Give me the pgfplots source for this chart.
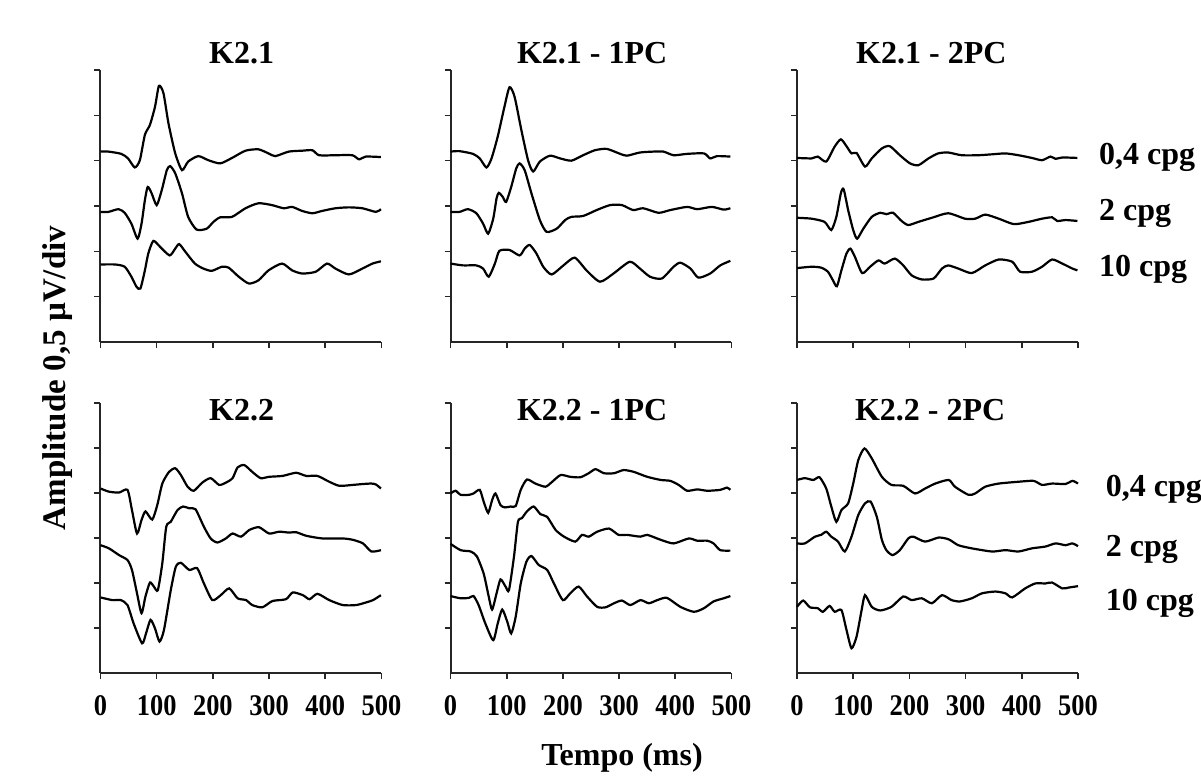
\documentclass[border=0pt]{standalone}
\usepackage{fontspec}
\setmainfont{Liberation Serif}
\newfontfamily\tickfam[FakeStretch=0.88]{Liberation Serif}
\usepackage{pgfplots}
\pgfplotsset{compat=1.18}

\newcommand\tfont{\fontsize{16bp}{18bp}\selectfont\bfseries}
\newcommand\tickfont{\tickfam\fontsize{15bp}{17bp}\selectfont\bfseries}

\pgfplotsset{
  panel/.style={
    scale only axis, width=140.5bp, height=136bp,
    xmin=0, xmax=500, ymin=0, ymax=6,
    axis x line*=bottom, axis y line*=left,
    axis line style={-, line width=1bp, black!85},
    xtick={0,100,...,500}, ytick={1,...,6},
    xticklabels={}, yticklabels={},
    tick align=outside, major tick length=3bp,
    tick style={line width=0.8bp, black!85},
    clip=false, anchor=south west,
  },
  bottomrow/.style={
    height=135bp,
    xticklabels={0,100,200,300,400,500},
    xticklabel style={font=\tickfont, anchor=base, yshift=-18.5bp},
  },
  trace/.style={black, line width=1.1bp, smooth, tension=0.4, mark=none},
}

\begin{document}
\begin{tikzpicture}
\path[use as bounding box] (0,0) rectangle (600.5bp,391bp);

% ---- top row ----
\begin{axis}[panel, at={(50.25bp,220bp)}]
\addplot[trace] coordinates {(0,4.20) (14,4.20) (37,4.15) (49,4.05) (61,3.85) (70,4.01) (79,4.57) (88,4.79) (97,5.19) (104,5.65) (112,5.49) (121,4.82) (133,4.16) (145,3.79) (156,3.98) (174,4.10) (192,4.01) (213,3.94) (234,4.06) (258,4.22) (281,4.25) (299,4.16) (311,4.10) (335,4.20) (359,4.22) (377,4.23) (389,4.12) (418,4.12) (448,4.12) (460,4.03) (472,4.09) (499,4.08)};
\addplot[trace] coordinates {(0,2.87) (14,2.87) (32,2.93) (43,2.85) (55,2.61) (66,2.28) (73,2.61) (79,3.13) (84,3.42) (91,3.28) (100,3.02) (109,3.35) (118,3.79) (124,3.88) (133,3.72) (145,3.28) (156,2.76) (171,2.48) (189,2.50) (201,2.65) (213,2.75) (234,2.76) (258,2.95) (281,3.06) (305,3.02) (326,2.95) (341,2.98) (359,2.89) (377,2.84) (394,2.89) (418,2.95) (442,2.97) (466,2.95) (490,2.87) (499,2.93)};
\addplot[trace] coordinates {(0,1.71) (26,1.71) (43,1.66) (55,1.44) (64,1.22) (71,1.18) (79,1.58) (85,1.95) (94,2.23) (106,2.10) (123,1.91) (133,2.06) (140,2.16) (151,1.99) (168,1.73) (183,1.62) (198,1.57) (216,1.66) (228,1.64) (246,1.44) (264,1.29) (281,1.36) (299,1.58) (323,1.73) (341,1.58) (359,1.51) (383,1.55) (403,1.73) (418,1.62) (442,1.49) (466,1.62) (484,1.73) (499,1.78)};
\node[anchor=base, font=\tfont] at (axis cs:251,6.15) {K2.1};
\end{axis}

\begin{axis}[panel, at={(225.25bp,220bp)}]
\addplot[trace] coordinates {(0,4.20) (16,4.21) (40,4.15) (52,4.05) (64,3.85) (73,4.05) (84,4.53) (96,5.19) (105,5.62) (114,5.41) (126,4.68) (138,4.01) (147,3.76) (159,3.98) (177,4.11) (195,4.05) (215,4.00) (236,4.12) (257,4.23) (278,4.26) (302,4.15) (314,4.11) (337,4.18) (361,4.20) (379,4.20) (397,4.12) (421,4.15) (451,4.16) (462,4.05) (474,4.10) (498,4.09)};
\addplot[trace] coordinates {(0,2.87) (16,2.87) (31,2.93) (46,2.84) (58,2.61) (67,2.39) (76,2.72) (82,3.17) (86,3.29) (93,3.20) (99,3.09) (108,3.42) (117,3.83) (123,3.94) (132,3.79) (144,3.28) (159,2.69) (171,2.43) (189,2.50) (204,2.69) (215,2.76) (236,2.78) (260,2.91) (284,3.02) (305,3.02) (325,2.91) (343,2.95) (370,2.85) (391,2.91) (421,2.98) (439,2.93) (465,2.98) (486,2.92) (498,2.95)};
\addplot[trace] coordinates {(0,1.73) (22,1.69) (46,1.69) (58,1.62) (68,1.44) (79,1.73) (87,2.01) (105,2.03) (123,1.91) (132,2.06) (141,2.14) (153,1.95) (165,1.66) (180,1.49) (201,1.69) (221,1.86) (242,1.58) (266,1.33) (290,1.51) (319,1.77) (337,1.62) (355,1.44) (376,1.40) (397,1.66) (409,1.75) (427,1.62) (441,1.42) (462,1.51) (480,1.69) (498,1.79)};
\node[anchor=base, font=\tfont] at (axis cs:252,6.15) {K2.1 - 1PC};
\end{axis}

\begin{axis}[panel, at={(398.5bp,220bp)}]
\addplot[trace] coordinates {(0,4.06) (26,4.05) (37,4.09) (52,3.98) (67,4.31) (78,4.47) (88,4.32) (97,4.16) (106,4.17) (121,3.87) (133,4.05) (151,4.27) (165,4.32) (183,4.12) (201,3.94) (216,3.90) (234,4.05) (251,4.16) (269,4.18) (293,4.12) (323,4.12) (347,4.14) (371,4.16) (394,4.12) (418,4.06) (436,4.01) (451,4.09) (460,4.04) (472,4.07) (499,4.06)};
\addplot[trace] coordinates {(0,2.74) (26,2.72) (49,2.65) (61,2.47) (70,2.76) (78,3.28) (83,3.37) (91,2.91) (100,2.47) (107,2.28) (118,2.50) (133,2.76) (148,2.85) (159,2.82) (171,2.85) (186,2.67) (198,2.58) (216,2.65) (240,2.74) (269,2.84) (299,2.72) (317,2.72) (335,2.81) (359,2.72) (386,2.60) (412,2.65) (436,2.72) (454,2.75) (463,2.67) (478,2.69) (499,2.67)};
\addplot[trace] coordinates {(0,1.63) (26,1.66) (43,1.64) (55,1.55) (64,1.36) (71,1.23) (79,1.58) (88,1.95) (95,2.06) (103,1.88) (116,1.52) (130,1.66) (145,1.80) (156,1.73) (174,1.84) (189,1.69) (204,1.47) (222,1.38) (243,1.40) (258,1.62) (269,1.69) (287,1.62) (311,1.52) (335,1.69) (359,1.82) (383,1.77) (397,1.55) (418,1.55) (436,1.66) (454,1.82) (472,1.73) (490,1.62) (499,1.58)};
\node[anchor=base, font=\tfont] at (axis cs:239,6.15) {K2.1 - 2PC};
\node[anchor=base west, font=\tfont] at (axis cs:525,3.91) {0,4 cpg};
\node[anchor=base west, font=\tfont] at (axis cs:525,2.69) {2 cpg};
\node[anchor=base west, font=\tfont] at (axis cs:525,1.44) {10 cpg};
\end{axis}

% ---- bottom row ----
\begin{axis}[panel, bottomrow, at={(50.25bp,54.5bp)}]
\addplot[trace] coordinates {(0,4.10) (15,4.03) (33,4.01) (48,4.07) (56,3.62) (65,3.10) (73,3.40) (80,3.59) (92,3.41) (101,3.73) (110,4.21) (122,4.47) (133,4.55) (143,4.40) (155,4.14) (166,4.05) (181,4.23) (196,4.33) (211,4.18) (223,4.23) (235,4.33) (244,4.57) (256,4.62) (270,4.47) (285,4.33) (300,4.36) (324,4.38) (348,4.45) (366,4.38) (386,4.38) (407,4.25) (425,4.16) (449,4.18) (467,4.20) (482,4.21) (490,4.19) (499,4.10)};
\addplot[trace] coordinates {(0,2.84) (15,2.77) (33,2.62) (48,2.51) (56,2.29) (65,1.77) (73,1.33) (80,1.70) (88,2.01) (95,1.92) (102,1.84) (110,2.44) (117,3.25) (125,3.36) (137,3.62) (147,3.70) (158,3.66) (169,3.64) (184,3.25) (196,2.99) (208,2.90) (223,2.99) (235,3.10) (250,3.03) (265,3.18) (282,3.24) (300,3.10) (318,3.14) (336,3.12) (348,3.13) (366,3.05) (395,2.99) (431,2.99) (449,2.96) (467,2.88) (482,2.70) (499,2.73)};
\addplot[trace] coordinates {(0,1.68) (21,1.62) (36,1.62) (48,1.51) (59,1.10) (74,0.66) (81,0.88) (89,1.18) (97,0.99) (105,0.70) (113,0.96) (125,1.84) (134,2.36) (143,2.45) (158,2.29) (172,2.33) (184,1.99) (199,1.62) (214,1.73) (229,1.88) (244,1.66) (259,1.62) (270,1.51) (288,1.46) (306,1.60) (330,1.64) (342,1.79) (360,1.73) (372,1.64) (386,1.76) (407,1.62) (431,1.51) (455,1.51) (473,1.57) (485,1.62) (499,1.73)};
\node[anchor=base, font=\tfont] at (axis cs:251,5.62) {K2.2};
\end{axis}

\begin{axis}[panel, bottomrow, at={(225.25bp,54.5bp)}]
\addplot[trace] coordinates {(0,3.99) (9,4.05) (18,3.96) (33,3.96) (41,3.99) (52,4.07) (59,3.81) (67,3.56) (74,3.84) (80,3.99) (89,3.73) (97,3.68) (107,3.70) (116,3.71) (125,4.07) (136,4.30) (151,4.21) (169,4.14) (181,4.25) (196,4.40) (213,4.36) (231,4.35) (246,4.44) (258,4.53) (273,4.44) (291,4.44) (308,4.51) (326,4.47) (350,4.36) (374,4.29) (391,4.27) (406,4.18) (421,4.05) (439,4.08) (457,4.05) (480,4.07) (492,4.12) (498,4.07)};
\addplot[trace] coordinates {(0,2.87) (18,2.73) (36,2.70) (47,2.59) (59,2.21) (68,1.70) (74,1.41) (82,1.77) (89,2.08) (98,1.92) (104,1.84) (113,2.59) (120,3.36) (127,3.44) (136,3.59) (148,3.70) (160,3.53) (172,3.47) (187,3.18) (202,3.03) (222,2.92) (234,3.07) (246,3.03) (261,3.14) (282,3.21) (299,3.07) (314,3.07) (338,3.03) (350,3.07) (374,2.96) (397,2.88) (424,2.99) (439,2.94) (457,2.94) (468,2.88) (480,2.73) (498,2.72)};
\addplot[trace] coordinates {(0,1.71) (18,1.66) (33,1.67) (41,1.71) (50,1.51) (62,1.10) (76,0.73) (84,1.10) (92,1.41) (101,1.14) (108,0.88) (116,1.25) (125,1.99) (135,2.47) (144,2.60) (157,2.40) (172,2.29) (184,1.99) (200,1.62) (213,1.77) (228,1.92) (243,1.70) (261,1.47) (276,1.46) (291,1.55) (305,1.61) (320,1.51) (338,1.62) (353,1.55) (368,1.62) (385,1.67) (409,1.47) (433,1.36) (451,1.44) (468,1.59) (486,1.66) (498,1.71)};
\node[anchor=base, font=\tfont] at (axis cs:252,5.62) {K2.2 - 1PC};
\end{axis}

\begin{axis}[panel, bottomrow, at={(398.5bp,54.5bp)}]
\addplot[trace] coordinates {(0,4.29) (14,4.33) (29,4.29) (40,4.35) (52,4.10) (61,3.70) (70,3.36) (79,3.62) (91,3.77) (100,4.21) (109,4.73) (120,4.99) (133,4.77) (151,4.36) (168,4.18) (189,4.16) (210,3.99) (228,4.10) (246,4.21) (270,4.29) (281,4.14) (305,3.96) (317,3.99) (335,4.14) (359,4.21) (394,4.25) (421,4.27) (436,4.18) (454,4.21) (478,4.20) (490,4.27) (500,4.21)};
\addplot[trace] coordinates {(0,2.88) (14,2.88) (32,3.03) (43,3.07) (52,3.14) (61,3.03) (73,2.92) (85,2.70) (97,3.03) (109,3.51) (121,3.77) (131,3.81) (142,3.47) (151,2.96) (159,2.73) (170,2.62) (183,2.73) (198,2.99) (207,3.03) (228,2.92) (252,3.01) (270,2.97) (287,2.84) (311,2.77) (347,2.70) (371,2.73) (394,2.70) (418,2.77) (442,2.81) (460,2.88) (478,2.84) (490,2.88) (500,2.82)};
\addplot[trace] coordinates {(0,1.47) (11,1.61) (23,1.46) (37,1.44) (46,1.36) (58,1.49) (67,1.36) (79,1.40) (88,0.96) (97,0.55) (106,0.81) (115,1.40) (121,1.73) (133,1.47) (148,1.39) (168,1.47) (189,1.70) (204,1.62) (222,1.66) (240,1.55) (258,1.73) (275,1.62) (290,1.59) (311,1.66) (329,1.77) (353,1.81) (371,1.77) (383,1.68) (406,1.88) (424,1.99) (442,1.99) (454,2.01) (472,1.88) (484,1.90) (500,1.93)};
\node[anchor=base, font=\tfont] at (axis cs:237,5.62) {K2.2 - 2PC};
\node[anchor=base west, font=\tfont] at (axis cs:537,3.92) {0,4 cpg};
\node[anchor=base west, font=\tfont] at (axis cs:537,2.58) {2 cpg};
\node[anchor=base west, font=\tfont] at (axis cs:537,1.40) {10 cpg};
\end{axis}

% shared axis labels
\node[anchor=base, font=\tfont] at (311bp,8.5bp) {Tempo (ms)};
\node[anchor=base, rotate=90, font=\fontsize{16.5bp}{18bp}\selectfont\bfseries] at (32.5bp,202bp) {Amplitude 0,5 µV/div};
\end{tikzpicture}
\end{document}
